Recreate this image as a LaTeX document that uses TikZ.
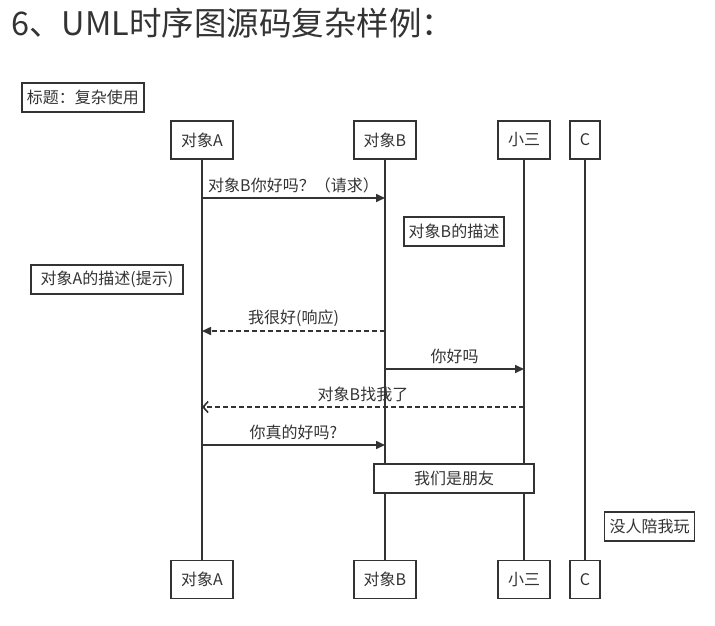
\documentclass[tikz,border=0pt]{standalone}
\usepackage{fontspec}
\setmainfont{Noto Sans CJK SC}
\usetikzlibrary{arrows.meta}

\definecolor{umlgray}{HTML}{333333}
\newcommand*{\umlfont}{\fontsize{16}{18}\selectfont}

\tikzset{
	actor/.style={draw=umlgray, line width=1.8pt, fill=white, text=umlgray, minimum height=38pt, inner xsep=10pt, inner ysep=0pt, font=\umlfont},
	note/.style={draw=umlgray, line width=1.8pt, fill=white, text=umlgray, minimum height=29pt, inner xsep=5pt, inner ysep=0pt, font=\umlfont},
	life/.style={umlgray, line width=1.8pt},
	msg/.style={umlgray, line width=1.6pt, -{Triangle[length=9pt,width=8pt]}},
	reply/.style={msg, dash pattern=on 5pt off 3pt},
	back/.style={umlgray, line width=1.6pt, dash pattern=on 5pt off 3pt, -{Straight Barb[length=5pt,width=11pt]}},
	lbl/.style={midway, yshift=12.5pt, inner sep=0pt, text=umlgray, font=\umlfont},
}

\begin{document}
\begin{tikzpicture}[x=1pt,y=-1pt]

	\useasboundingbox (0,0) rectangle (715,625);

	% heading
	\node[anchor=west, inner sep=0pt, text=umlgray, font=\fontsize{32.5}{38}\selectfont] (heading) at (11,23) {6、UML时序图源码复杂样例：};
	\node[note] (title) at (83,97.5) {标题：复杂使用};

	% participants, top and bottom
	\node[actor] (objA) at (202,140) {对象A};
	\node[actor] (objB) at (385,140) {对象B};
	\node[actor] (san) at (524,140) {小三};
	\node[actor] (objC) at (585,140) {C};
	\node[actor] (objAb) at (202,579.5) {对象A};
	\node[actor] (objBb) at (385,579.5) {对象B};
	\node[actor] (sanb) at (524,579.5) {小三};
	\node[actor] (objCb) at (585,579.5) {C};

	% lifelines
	\draw[life] (objA) -- (objAb);
	\draw[life] (objB) -- (objBb);
	\draw[life] (san) -- (sanb);
	\draw[life] (objC) -- (objCb);

	% messages
	\draw[msg] (objA |- 0,198) -- (objB |- 0,198) node[lbl] {对象B你好吗？（请求）};
	\draw[reply] (objB |- 0,331) -- (objA |- 0,331) node[lbl] {我很好(响应)};
	\draw[msg] (objB |- 0,369) -- (san |- 0,369) node[lbl] {你好吗};
	\draw[back] (san |- 0,407) -- (objA |- 0,407) node[lbl] {对象B找我了};
	\draw[msg] (objA |- 0,445) -- (objB |- 0,445) node[lbl] {你真的好吗?};

	% notes
	\node[note] (noteB) at (454,231.5) {对象B的描述};
	\node[note, minimum width=152pt] (noteA) at (107,279.5) {对象A的描述(提示)};
	\node[note, minimum width=160pt] (friends) at (454,478.5) {我们是朋友};
	\node[note] (noteC) at (649.5,526.5) {没人陪我玩};

\end{tikzpicture}
\end{document}
